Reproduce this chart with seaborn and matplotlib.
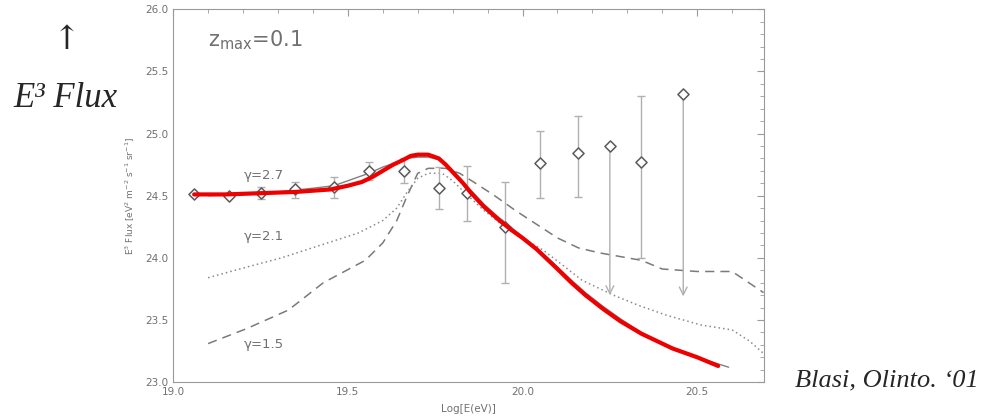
import numpy as np
import pandas as pd
import matplotlib
matplotlib.use('Agg')
import matplotlib.pyplot as plt
import seaborn as sns

# data points
data_x = [19.06, 19.16, 19.25, 19.35, 19.46, 19.56, 19.66, 19.76, 19.84, 19.95, 20.05, 20.16]
data_y = [24.51, 24.50, 24.52, 24.55, 24.57, 24.70, 24.70, 24.56, 24.52, 24.25, 24.76, 24.84]
err_lo = [0.0, 0.0, 0.05, 0.07, 0.09, 0.07, 0.10, 0.17, 0.22, 0.45, 0.28, 0.35]
err_hi = [0.0, 0.0, 0.05, 0.06, 0.08, 0.07, 0.10, 0.17, 0.22, 0.36, 0.26, 0.30]

# points with one sided bars / upper limits
lim_x = [20.25, 20.34, 20.46]
lim_y = [24.90, 24.77, 25.32]
lim_top = [24.90, 25.30, 25.32]
lim_low = [23.70, 24.00, 23.69]
lim_arrow = [True, False, True]

# gamma = 2.7 model (thin gray)
g27_x = [19.10, 19.20, 19.30, 19.40, 19.46, 19.51, 19.56, 19.60, 19.64, 19.67, 19.70, 19.73,
         19.76, 19.79, 19.82, 19.85, 19.89, 19.93, 19.97, 20.00, 20.04, 20.08, 20.14, 20.18,
         20.23, 20.28, 20.34, 20.43, 20.50, 20.59]
g27_y = [24.50, 24.51, 24.53, 24.56, 24.58, 24.63, 24.68, 24.73, 24.77, 24.80, 24.81, 24.81,
         24.79, 24.73, 24.64, 24.55, 24.43, 24.33, 24.24, 24.17, 24.08, 23.98, 23.82, 23.72,
         23.61, 23.51, 23.40, 23.27, 23.20, 23.12]

# gamma = 2.1 model (dotted)
g21_x = [19.10, 19.19, 19.31, 19.42, 19.53, 19.60, 19.64, 19.67, 19.70, 19.73, 19.77, 19.80,
         19.84, 19.89, 19.94, 20.00, 20.06, 20.12, 20.17, 20.26, 20.33, 20.41, 20.51, 20.60,
         20.65, 20.69]
g21_y = [23.84, 23.91, 24.00, 24.10, 24.20, 24.30, 24.40, 24.53, 24.64, 24.68, 24.68, 24.62,
         24.51, 24.38, 24.27, 24.16, 24.06, 23.93, 23.82, 23.70, 23.62, 23.54, 23.46, 23.42,
         23.33, 23.23]

# gamma = 1.5 model (dashed)
g15_x = [19.10, 19.21, 19.33, 19.43, 19.55, 19.60, 19.64, 19.67, 19.70, 19.73, 19.78, 19.82,
         19.86, 19.92, 19.98, 20.04, 20.10, 20.16, 20.22, 20.28, 20.34, 20.40, 20.50, 20.60,
         20.69]
g15_y = [23.31, 23.43, 23.58, 23.80, 23.98, 24.12, 24.30, 24.50, 24.68, 24.72, 24.72, 24.68,
         24.61, 24.50, 24.38, 24.27, 24.16, 24.08, 24.04, 24.01, 23.98, 23.91, 23.89, 23.89,
         23.72]

# red fit curve
fit_x = [19.06, 19.15, 19.25, 19.35, 19.45, 19.50, 19.54, 19.57, 19.60, 19.63, 19.66, 19.68,
         19.70, 19.73, 19.76, 19.78, 19.80, 19.83, 19.85, 19.89, 19.93, 19.97, 20.00, 20.04,
         20.07, 20.10, 20.14, 20.18, 20.23, 20.28, 20.34, 20.43, 20.50, 20.56]
fit_y = [24.51, 24.51, 24.52, 24.53, 24.55, 24.58, 24.61, 24.65, 24.70, 24.75, 24.79, 24.82,
         24.83, 24.83, 24.80, 24.75, 24.69, 24.60, 24.53, 24.41, 24.31, 24.22, 24.16, 24.07,
         23.99, 23.91, 23.80, 23.70, 23.59, 23.49, 23.39, 23.27, 23.20, 23.13]

gamma_labels = ['γ=2.7', 'γ=2.1', 'γ=1.5']
gamma_label_y = [24.66, 24.17, 23.30]

sns.set_style('white')
plt.rcParams['font.family'] = ['DejaVu Sans']

fig = plt.figure(figsize=(9.84, 4.19), dpi=100)
ax = fig.add_axes([0.176, 0.088, 0.600, 0.890])

axc = '#9a9a9a'
txtc = '#707070'

sns.lineplot(x=g15_x, y=g15_y, ax=ax, color='#7a7a7a', lw=1.1, linestyle=(0, (6, 4)), sort=False)
sns.lineplot(x=g21_x, y=g21_y, ax=ax, color='#8a8a8a', lw=1.1, linestyle=(0, (1, 2)), sort=False)
sns.lineplot(x=g27_x, y=g27_y, ax=ax, color='#808080', lw=1.0, sort=False)

# error bars
ax.errorbar(data_x, data_y, yerr=[err_lo, err_hi], fmt='none', ecolor='#b0b0b0',
            elinewidth=1.0, capsize=3, capthick=1.0, zorder=2)
for x, y, top, low, arr in zip(lim_x, lim_y, lim_top, lim_low, lim_arrow):
    if arr:
        ax.annotate('', xy=(x, low), xytext=(x, top),
                    arrowprops=dict(arrowstyle='->', color='#b0b0b0', lw=1.0,
                                    mutation_scale=14, shrinkA=0, shrinkB=0))
    else:
        ax.errorbar([x], [y], yerr=[[y - low], [top - y]], fmt='none', ecolor='#b0b0b0',
                    elinewidth=1.0, capsize=3, capthick=1.0, zorder=2)

pts = pd.DataFrame({'x': data_x + lim_x, 'y': data_y + lim_y})
sns.scatterplot(data=pts, x='x', y='y', ax=ax, marker='D', s=32, facecolor='white',
                edgecolor='#5a5a5a', linewidth=1.1, zorder=4)

sns.lineplot(x=fit_x, y=fit_y, ax=ax, color='#ee0000', lw=3.0, sort=False, zorder=5)

for lab, ly in zip(gamma_labels, gamma_label_y):
    ax.text(19.26, ly, lab, fontsize=9.5, color=txtc, ha='center', va='center')
ax.text(19.10, 25.75, r'$\mathregular{z_{max}}$=0.1', fontsize=15, color=txtc,
        ha='left', va='center')

ax.set_xlim(19.0, 20.69)
ax.set_ylim(23.0, 26.0)
ax.set_xticks([19.0, 19.5, 20.0, 20.5])
ax.set_xticklabels(['19.0', '19.5', '20.0', '20.5'])
ax.set_xticks(np.arange(19.1, 20.69, 0.1), minor=True)
ax.set_yticks([23.0, 23.5, 24.0, 24.5, 25.0, 25.5, 26.0])
ax.set_yticks(np.arange(23.1, 26.0, 0.1), minor=True)
ax.tick_params(which='both', direction='in', top=True, right=True, colors=axc,
               labelcolor=txtc, labelsize=7.5)
ax.tick_params(which='major', length=5, width=0.8)
ax.tick_params(which='minor', length=3, width=0.6)
for s in ax.spines.values():
    s.set_color(axc)
    s.set_linewidth(0.8)

ax.set_xlabel('Log[E(eV)]', fontsize=7.5, color=txtc, labelpad=5)
ax.set_ylabel(r'E$^3$ Flux [eV$^2$ m$^{-2}$ s$^{-1}$ sr$^{-1}$]', fontsize=6.5,
              color=txtc, labelpad=6)

fig.text(0.068, 0.905, '↑', fontsize=24, family='DejaVu Serif', ha='center', va='center')
fig.text(0.066, 0.765, 'E\u00b3 Flux', fontsize=25, family='Liberation Serif',
         style='italic', ha='center', va='center')
fig.text(0.995, 0.092, 'Blasi, Olinto. \u201801', fontsize=19, family='Liberation Serif',
         style='italic', ha='right', va='center')

fig.savefig('out.png', dpi=100)
